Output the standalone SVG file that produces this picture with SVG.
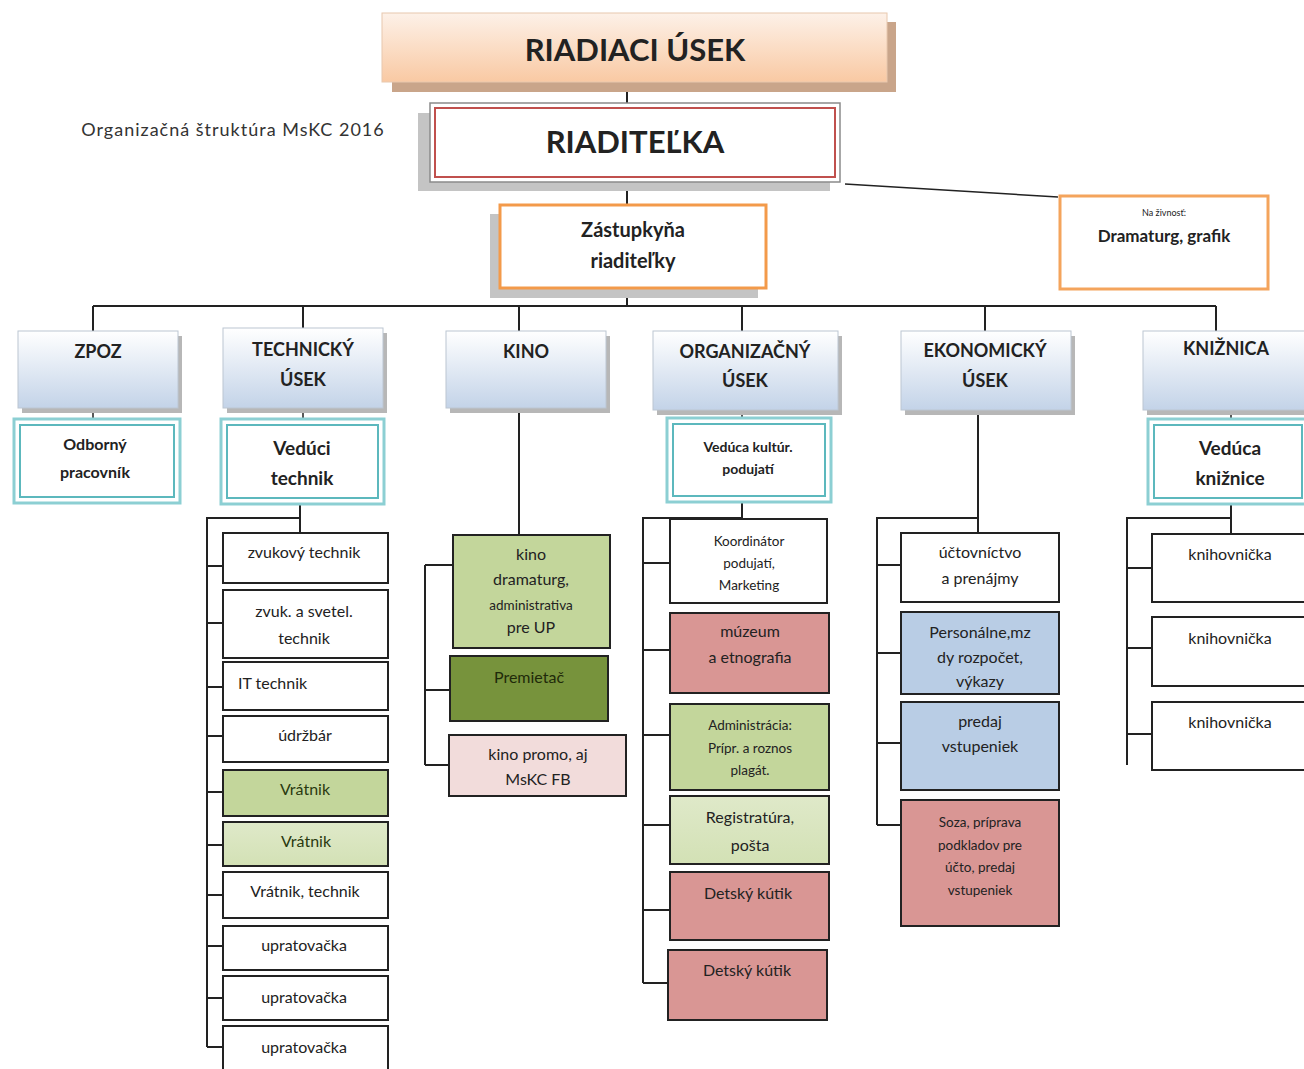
<svg xmlns="http://www.w3.org/2000/svg" width="1304" height="1069" viewBox="0 0 1304 1069">
<defs>
<linearGradient id="peach" x1="0" y1="0" x2="0" y2="1">
<stop offset="0" stop-color="#fdf1e8"/><stop offset="1" stop-color="#f9c9a3"/>
</linearGradient>
<linearGradient id="blue" x1="0" y1="0" x2="0" y2="1">
<stop offset="0" stop-color="#ffffff"/><stop offset="1" stop-color="#c3d3e8"/>
</linearGradient>
<linearGradient id="ltgreen" x1="0" y1="0" x2="0" y2="1">
<stop offset="0" stop-color="#dfe9c9"/><stop offset="1" stop-color="#d3e1b5"/>
</linearGradient>
</defs>
<style>
text{font-family:Lato,"Open Sans","Liberation Sans",sans-serif;fill:#222;text-anchor:middle}
.b{font-weight:bold}
.con{stroke:#222;stroke-width:2;fill:none}
.dep{fill:url(#blue);stroke:#bcc6d2;stroke-width:1}
.sh{fill:#b7b7b7}
.teal{fill:#fff;stroke:#8ccfd3;stroke-width:3}
.tealin{fill:none;stroke:#5cb8bd;stroke-width:2}
.box{stroke:#222;stroke-width:2}
.w{fill:#fff}
.g{fill:#c3d69b}
.lg{fill:url(#ltgreen)}
.dg{fill:#77933c}
.pk{fill:#f2dcdb}
.r{fill:#d99694}
.bl{fill:#b9cde5}
.dt{font-size:18px;font-weight:bold}
.it{font-size:16px}
.sm{font-size:13.5px}
</style>

<text x="233" y="136" style="font-size:18px;letter-spacing:1px;fill:#333">Organizačná štruktúra MsKC 2016</text>

<g id="connectors">
<path class="con" d="M627 82V103M627 182V205M627 288V306M93 306H1216M93 306V331M303 306V328M519 306V331M742 306V331M985 306V331M1216 306V331"/>
<path class="con" style="stroke-width:1.5" d="M845 184L1058 197"/>
<path class="con" style="stroke-width:1.5" d="M93 408V419M303 408V419M742 410V418M1231 410V419"/>
<path class="con" d="M300 504V533M300 518H207V1047M207 566H223M207 623H223M207 687H223M207 736H223M207 792H223M207 845H223M207 895H223M207 946H223M207 998H223M207 1047H223"/>
<path class="con" d="M519 408V535M425 565V765M425 565H453M425 690H450M425 765H449"/>
<path class="con" d="M742 502V519M742 518H643V983M643 563H670M643 650H670M643 735H670M643 825H670M643 910H670M643 983H668"/>
<path class="con" d="M978 410V533M978 518H877V825M877 565H901M877 653H901M877 743H901M877 825H901"/>
<path class="con" d="M1231 504V534M1231 518H1127V765M1127 568H1152M1127 648H1152M1127 734H1152"/>
</g>

<g id="riadiaci">
<rect x="392" y="22" width="504" height="70" fill="#c9a58a"/>
<rect x="382" y="13" width="505" height="69" fill="url(#peach)" stroke="#e8c8ae" stroke-width="1"/>
<text class="b" x="635" y="61" style="font-size:31px">RIADIACI ÚSEK</text>
</g>

<g id="riaditelka">
<rect x="418" y="113" width="412" height="78" fill="#c4c4c4"/>
<rect x="430" y="103" width="410" height="79" fill="#fff" stroke="#8a8a8a" stroke-width="1.5"/>
<rect x="435" y="108" width="400" height="69" fill="none" stroke="#c0504d" stroke-width="2"/>
<text class="b" x="635" y="153" style="font-size:31px">RIADITEĽKA</text>
</g>

<g id="zastupkyna">
<rect x="490" y="214" width="268" height="84" fill="#c4c4c4"/>
<rect x="500" y="205" width="266" height="83" fill="#fff" stroke="#f39a4a" stroke-width="3"/>
<text class="b" x="633" y="237" style="font-size:20px">Zástupkyňa</text>
<text class="b" x="633" y="268" style="font-size:20px">riaditeľky</text>
</g>

<g id="dramaturg">
<rect x="1060" y="196" width="208" height="93" fill="#fff" stroke="#f4a45c" stroke-width="3"/>
<text x="1164" y="216" style="font-size:9px">Na živnosť:</text>
<text x="1164" y="242" style="font-size:17px;font-weight:bold">Dramaturg, grafik</text>
</g>

<g id="zpoz">
<rect class="sh" x="22" y="336" width="160" height="77"/>
<rect class="dep" x="18" y="331" width="160" height="77"/>
<text class="dt" x="98" y="358">ZPOZ</text>
</g>
<g id="technicky">
<rect class="sh" x="227" y="333" width="160" height="80"/>
<rect class="dep" x="223" y="328" width="160" height="80"/>
<text class="dt" x="303" y="356">TECHNICKÝ</text>
<text class="dt" x="303" y="386">ÚSEK</text>
</g>
<g id="kino">
<rect class="sh" x="450" y="336" width="160" height="77"/>
<rect class="dep" x="446" y="331" width="160" height="77"/>
<text class="dt" x="526" y="358">KINO</text>
</g>
<g id="organizacny">
<rect class="sh" x="657" y="336" width="185" height="79"/>
<rect class="dep" x="653" y="331" width="185" height="79"/>
<text class="dt" x="745" y="358">ORGANIZAČNÝ</text>
<text class="dt" x="745" y="387">ÚSEK</text>
</g>
<g id="ekonomicky">
<rect class="sh" x="905" y="336" width="170" height="79"/>
<rect class="dep" x="901" y="331" width="170" height="79"/>
<text class="dt" x="985" y="357">EKONOMICKÝ</text>
<text class="dt" x="985" y="387">ÚSEK</text>
</g>
<g id="kniznica">
<rect class="sh" x="1147" y="336" width="160" height="79"/>
<rect class="dep" x="1143" y="331" width="165" height="79"/>
<text class="dt" x="1226" y="355">KNIŽNICA</text>
</g>

<g id="odborny">
<rect class="teal" x="14" y="419" width="166" height="84"/>
<rect class="tealin" x="20" y="425" width="154" height="72"/>
<text class="b" x="95" y="450" style="font-size:16px">Odborný</text>
<text class="b" x="95" y="478" style="font-size:16px">pracovník</text>
</g>
<g id="veduci-technik">
<rect class="teal" x="221" y="419" width="163" height="85"/>
<rect class="tealin" x="227" y="425" width="151" height="73"/>
<text class="b" x="302" y="455" style="font-size:19px">Vedúci</text>
<text class="b" x="302" y="485" style="font-size:19px">technik</text>
</g>
<g id="veduca-kultur">
<rect class="teal" x="667" y="418" width="164" height="84"/>
<rect class="tealin" x="673" y="424" width="152" height="72"/>
<text class="b" x="748" y="452" style="font-size:14px">Vedúca kultúr.</text>
<text class="b" x="748" y="474" style="font-size:14px">podujatí</text>
</g>
<g id="veduca-kniznice">
<rect class="teal" x="1148" y="419" width="160" height="85"/>
<rect class="tealin" x="1154" y="425" width="148" height="73"/>
<text class="b" x="1230" y="455" style="font-size:19px">Vedúca</text>
<text class="b" x="1230" y="485" style="font-size:19px">knižnice</text>
</g>

<g id="t1"><rect class="box w" x="223" y="533" width="165" height="50"/><text class="it" x="304" y="558">zvukový technik</text></g>
<g id="t2"><rect class="box w" x="223" y="590" width="165" height="68"/><text class="it" x="304" y="617">zvuk. a svetel.</text><text class="it" x="304" y="644">technik</text></g>
<g id="t3"><rect class="box w" x="223" y="662" width="165" height="48"/><text class="it" x="238" y="689" style="text-anchor:start">IT technik</text></g>
<g id="t4"><rect class="box w" x="223" y="716" width="165" height="46"/><text class="it" x="305" y="741">údržbár</text></g>
<g id="t5"><rect class="box g" x="223" y="770" width="165" height="46"/><text class="it" x="305" y="795" style="fill:#2a3a10">Vrátnik</text></g>
<g id="t6"><rect class="box lg" x="223" y="822" width="165" height="44"/><text class="it" x="306" y="847" style="fill:#2a3a10">Vrátnik</text></g>
<g id="t7"><rect class="box w" x="223" y="872" width="165" height="46"/><text class="it" x="305" y="897">Vrátnik, technik</text></g>
<g id="t8"><rect class="box w" x="223" y="926" width="165" height="44"/><text class="it" x="304" y="951">upratovačka</text></g>
<g id="t9"><rect class="box w" x="223" y="976" width="165" height="44"/><text class="it" x="304" y="1003">upratovačka</text></g>
<g id="t10"><rect class="box w" x="223" y="1026" width="165" height="48"/><text class="it" x="304" y="1053">upratovačka</text></g>

<g id="k1"><rect class="box g" x="453" y="535" width="157" height="113"/><text class="it" x="531" y="560">kino</text><text class="it" x="531" y="585">dramaturg,</text><text class="sm" x="531" y="610">administrativa</text><text class="it" x="531" y="633">pre UP</text></g>
<g id="k2"><rect class="box dg" x="450" y="656" width="158" height="65"/><text class="it" x="529" y="683" style="fill:#1f2a0a">Premietač</text></g>
<g id="k3"><rect class="box pk" x="449" y="735" width="177" height="61"/><text class="it" x="538" y="760">kino promo, aj</text><text class="it" x="538" y="785">MsKC FB</text></g>

<g id="o1"><rect class="box w" x="670" y="519" width="157" height="84"/><text class="sm" x="749" y="546">Koordinátor</text><text class="sm" x="749" y="568">podujatí,</text><text class="sm" x="749" y="590">Marketing</text></g>
<g id="o2"><rect class="box r" x="670" y="613" width="159" height="80"/><text class="it" x="750" y="637">múzeum</text><text class="it" x="750" y="663">a etnografia</text></g>
<g id="o3"><rect class="box g" x="670" y="704" width="159" height="86"/><text class="sm" x="750" y="730">Administrácia:</text><text class="sm" x="750" y="753">Prípr. a roznos</text><text class="sm" x="750" y="775">plagát.</text></g>
<g id="o4"><rect class="box lg" x="670" y="796" width="159" height="68"/><text class="it" x="750" y="823">Registratúra,</text><text class="it" x="750" y="851">pošta</text></g>
<g id="o5"><rect class="box r" x="670" y="872" width="159" height="68"/><text class="it" x="748" y="899">Detský kútik</text></g>
<g id="o6"><rect class="box r" x="668" y="950" width="159" height="70"/><text class="it" x="747" y="976">Detský kútik</text></g>

<g id="e1"><rect class="box w" x="901" y="533" width="158" height="69"/><text class="it" x="980" y="558">účtovníctvo</text><text class="it" x="980" y="584">a prenájmy</text></g>
<g id="e2"><rect class="box bl" x="901" y="612" width="158" height="82"/><text class="it" x="980" y="638">Personálne,mz</text><text class="it" x="980" y="663">dy rozpočet,</text><text class="it" x="980" y="687">výkazy</text></g>
<g id="e3"><rect class="box bl" x="901" y="702" width="158" height="88"/><text class="it" x="980" y="727">predaj</text><text class="it" x="980" y="752">vstupeniek</text></g>
<g id="e4"><rect class="box r" x="901" y="800" width="158" height="126"/><text class="sm" x="980" y="827">Soza, príprava</text><text class="sm" x="980" y="850">podkladov pre</text><text class="sm" x="980" y="872">účto, predaj</text><text class="sm" x="980" y="895">vstupeniek</text></g>

<g id="l1"><rect class="box w" x="1152" y="534" width="160" height="68"/><text class="it" x="1230" y="560">knihovnička</text></g>
<g id="l2"><rect class="box w" x="1152" y="617" width="160" height="69"/><text class="it" x="1230" y="644">knihovnička</text></g>
<g id="l3"><rect class="box w" x="1152" y="702" width="160" height="68"/><text class="it" x="1230" y="728">knihovnička</text></g>
</svg>
